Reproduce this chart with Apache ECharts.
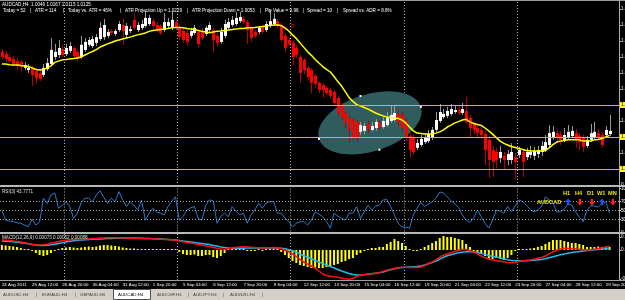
<!DOCTYPE html>
<html>
<head>
<meta charset="utf-8">
<script src="https://cdn.jsdelivr.net/npm/echarts@6/dist/echarts.min.js"></script>
<style>
html, body { margin: 0; padding: 0; background: #000; }
#chart { width: 625px; height: 300px; }
</style>
</head>
<body>
<div id="chart"></div>
<script>
// AUDCAD H4, 24 Aug - 30 Sep 2011
const timeLabels = ['24 Aug 2011', '25 Aug 12:00', '26 Aug 20:00', '30 Aug 04:00', '31 Aug 12:00', '1 Sep 20:00',
  '5 Sep 04:00', '6 Sep 12:00', '7 Sep 20:00', '9 Sep 04:00', '12 Sep 12:00', '13 Sep 20:00', '15 Sep 04:00',
  '16 Sep 12:00', '19 Sep 20:00', '21 Sep 04:00', '22 Sep 12:00', '23 Sep 20:00', '27 Sep 04:00', '28 Sep 12:00',
  '29 Sep 20:00'];

const opens = [
  1.0366,1.0359,1.0350,1.0344,1.0337,1.0334,1.0316,1.0309,1.0316,1.0306,
  1.0300,1.0294,1.0312,1.0328,1.0350,1.0356,1.0375,1.0359,1.0369,1.0378,
  1.0366,1.0350,1.0372,1.0388,1.0384,1.0394,1.0406,1.0412,1.0416,1.0431,
  1.0422,1.0434,1.0450,1.0419,1.0431,1.0466,1.0434,1.0441,1.0447,1.0453,
  1.0462,1.0450,1.0447,1.0434,1.0447,1.0444,1.0459,1.0444,1.0431,1.0425,
  1.0416,1.0425,1.0428,1.0431,1.0422,1.0434,1.0434,1.0416,1.0397,1.0416,
  1.0441,1.0450,1.0453,1.0462,1.0469,1.0459,1.0441,1.0428,1.0428,1.0444,
  1.0434,1.0447,1.0453,1.0462,1.0450,1.0416,1.0403,1.0394,1.0378,1.0350,
  1.0341,1.0316,1.0309,1.0291,1.0269,1.0262,1.0253,1.0247,1.0241,1.0222,
  1.0200,1.0175,1.0159,1.0153,1.0147,1.0116,1.0119,1.0141,1.0122,1.0128,
  1.0144,1.0131,1.0137,1.0150,1.0153,1.0172,1.0169,1.0150,1.0103,1.0097,
  1.0066,1.0075,1.0084,1.0087,1.0097,1.0122,1.0150,1.0162,1.0166,1.0172,
  1.0178,1.0184,1.0175,1.0181,1.0159,1.0141,1.0128,1.0122,1.0109,1.0091,
  1.0059,1.0053,1.0034,1.0041,1.0028,1.0028,1.0037,1.0044,1.0053,1.0037,
  1.0044,1.0041,1.0047,1.0053,1.0059,1.0075,1.0097,1.0112,1.0106,1.0091,
  1.0100,1.0103,1.0112,1.0103,1.0097,1.0072,1.0091,1.0097,1.0112,1.0106,
  1.0106,1.0109];
const closes = [
  1.0350,1.0344,1.0337,1.0328,1.0325,1.0319,1.0325,1.0316,1.0294,1.0284,
  1.0281,1.0316,1.0331,1.0372,1.0366,1.0378,1.0356,1.0378,1.0384,1.0353,
  1.0344,1.0388,1.0397,1.0403,1.0406,1.0412,1.0441,1.0450,1.0428,1.0425,
  1.0431,1.0453,1.0431,1.0447,1.0437,1.0441,1.0450,1.0453,1.0472,1.0472,
  1.0447,1.0434,1.0425,1.0459,1.0459,1.0466,1.0441,1.0412,1.0403,1.0397,
  1.0431,1.0441,1.0391,1.0409,1.0441,1.0450,1.0403,1.0394,1.0428,1.0453,
  1.0459,1.0466,1.0472,1.0475,1.0459,1.0434,1.0409,1.0416,1.0441,1.0428,
  1.0453,1.0462,1.0469,1.0447,1.0403,1.0378,1.0391,1.0350,1.0356,1.0300,
  1.0309,1.0287,1.0269,1.0266,1.0247,1.0247,1.0237,1.0228,1.0206,1.0175,
  1.0162,1.0144,1.0122,1.0100,1.0097,1.0137,1.0134,1.0125,1.0134,1.0147,
  1.0131,1.0150,1.0159,1.0169,1.0175,1.0147,1.0128,1.0097,1.0059,1.0053,
  1.0081,1.0094,1.0100,1.0109,1.0122,1.0153,1.0178,1.0172,1.0181,1.0187,
  1.0184,1.0175,1.0187,1.0147,1.0128,1.0122,1.0112,1.0106,1.0059,1.0028,
  1.0022,1.0028,1.0053,1.0028,1.0047,1.0053,1.0022,1.0059,1.0022,1.0053,
  1.0053,1.0056,1.0059,1.0072,1.0084,1.0112,1.0116,1.0097,1.0091,1.0106,
  1.0116,1.0119,1.0091,1.0084,1.0069,1.0091,1.0112,1.0116,1.0100,1.0075,
  1.0122,1.0119];
const lows = [
  1.0341,1.0334,1.0328,1.0322,1.0309,1.0306,1.0309,1.0300,1.0259,1.0269,
  1.0275,1.0287,1.0306,1.0322,1.0341,1.0347,1.0350,1.0353,1.0362,1.0347,
  1.0337,1.0344,1.0366,1.0381,1.0378,1.0384,1.0400,1.0403,1.0409,1.0419,
  1.0416,1.0428,1.0388,1.0409,1.0425,1.0434,1.0428,1.0434,1.0441,1.0447,
  1.0441,1.0428,1.0419,1.0428,1.0441,1.0434,1.0434,1.0403,1.0394,1.0384,
  1.0409,1.0419,1.0378,1.0403,1.0416,1.0425,1.0366,1.0384,1.0391,1.0409,
  1.0434,1.0444,1.0447,1.0456,1.0453,1.0391,1.0397,1.0409,1.0422,1.0422,
  1.0428,1.0441,1.0447,1.0441,1.0397,1.0366,1.0384,1.0325,1.0347,1.0269,
  1.0297,1.0278,1.0237,1.0253,1.0237,1.0222,1.0231,1.0219,1.0197,1.0166,
  1.0150,1.0128,1.0084,1.0091,1.0084,1.0106,1.0109,1.0112,1.0116,1.0119,
  1.0122,1.0125,1.0131,1.0144,1.0147,1.0134,1.0119,1.0087,1.0034,1.0044,
  1.0059,1.0069,1.0078,1.0081,1.0091,1.0116,1.0144,1.0156,1.0159,1.0166,
  1.0172,1.0169,1.0169,1.0141,1.0100,1.0109,1.0100,1.0094,1.0012,0.9972,
  0.9975,1.0003,1.0019,0.9997,1.0012,1.0016,0.9966,1.0034,0.9975,1.0028,
  1.0034,1.0028,1.0034,1.0041,1.0053,1.0069,1.0091,1.0081,1.0075,1.0084,
  1.0094,1.0097,1.0066,1.0059,1.0053,1.0066,1.0084,1.0091,1.0091,1.0066,
  1.0100,1.0103];
const highs = [
  1.0375,1.0369,1.0359,1.0353,1.0347,1.0341,1.0334,1.0328,1.0322,1.0316,
  1.0309,1.0328,1.0347,1.0409,1.0391,1.0403,1.0388,1.0391,1.0397,1.0384,
  1.0372,1.0416,1.0409,1.0412,1.0416,1.0422,1.0459,1.0469,1.0437,1.0437,
  1.0437,1.0462,1.0469,1.0456,1.0447,1.0487,1.0459,1.0466,1.0494,1.0481,
  1.0469,1.0459,1.0453,1.0487,1.0472,1.0491,1.0469,1.0453,1.0441,1.0434,
  1.0441,1.0450,1.0434,1.0441,1.0447,1.0459,1.0441,1.0425,1.0441,1.0466,
  1.0472,1.0478,1.0491,1.0491,1.0478,1.0466,1.0447,1.0434,1.0447,1.0450,
  1.0462,1.0497,1.0487,1.0469,1.0456,1.0425,1.0412,1.0400,1.0388,1.0356,
  1.0347,1.0322,1.0316,1.0297,1.0275,1.0269,1.0259,1.0253,1.0247,1.0228,
  1.0206,1.0181,1.0166,1.0159,1.0153,1.0147,1.0144,1.0150,1.0147,1.0156,
  1.0153,1.0162,1.0178,1.0197,1.0200,1.0184,1.0178,1.0159,1.0112,1.0106,
  1.0094,1.0106,1.0112,1.0122,1.0131,1.0178,1.0203,1.0187,1.0194,1.0203,
  1.0200,1.0197,1.0206,1.0225,1.0169,1.0150,1.0137,1.0131,1.0119,1.0103,
  1.0072,1.0066,1.0072,1.0053,1.0059,1.0081,1.0050,1.0069,1.0062,1.0066,
  1.0072,1.0069,1.0072,1.0087,1.0106,1.0137,1.0134,1.0122,1.0119,1.0128,
  1.0137,1.0134,1.0125,1.0112,1.0109,1.0103,1.0141,1.0147,1.0122,1.0116,
  1.0134,1.0169];
const ma = [
  1.0328,1.0328,1.0326,1.0325,1.0325,1.0323,1.0322,1.0320,1.0316,1.0311,
  1.0309,1.0311,1.0316,1.0322,1.0333,1.0337,1.0341,1.0342,1.0344,1.0345,
  1.0347,1.0350,1.0356,1.0362,1.0367,1.0373,1.0381,1.0386,1.0391,1.0395,
  1.0400,1.0403,1.0406,1.0409,1.0412,1.0416,1.0419,1.0422,1.0425,1.0430,
  1.0433,1.0434,1.0436,1.0437,1.0439,1.0441,1.0442,1.0442,1.0441,1.0439,
  1.0437,1.0436,1.0433,1.0430,1.0428,1.0426,1.0428,1.0430,1.0431,1.0433,
  1.0434,1.0436,1.0437,1.0439,1.0439,1.0441,1.0441,1.0442,1.0444,1.0445,
  1.0447,1.0448,1.0450,1.0450,1.0448,1.0441,1.0431,1.0419,1.0408,1.0394,
  1.0380,1.0366,1.0355,1.0342,1.0331,1.0320,1.0311,1.0303,1.0289,1.0273,
  1.0259,1.0241,1.0223,1.0211,1.0201,1.0197,1.0192,1.0187,1.0181,1.0175,
  1.0170,1.0166,1.0162,1.0161,1.0159,1.0158,1.0153,1.0144,1.0131,1.0119,
  1.0112,1.0111,1.0109,1.0109,1.0109,1.0112,1.0116,1.0122,1.0131,1.0137,
  1.0144,1.0148,1.0153,1.0155,1.0147,1.0142,1.0139,1.0136,1.0128,1.0119,
  1.0109,1.0098,1.0087,1.0080,1.0075,1.0070,1.0067,1.0064,1.0061,1.0058,
  1.0056,1.0056,1.0056,1.0056,1.0058,1.0066,1.0076,1.0084,1.0087,1.0089,
  1.0091,1.0091,1.0091,1.0091,1.0087,1.0087,1.0087,1.0091,1.0092,1.0095,
  1.0100,1.0105];
const rsi = [
  51,28,26,25,22,21,17,13,30,17,
  24,78,66,85,90,55,62,70,59,32,
  44,68,78,78,70,85,95,80,66,78,
  70,93,74,59,70,62,51,74,28,44,
  55,47,44,40,59,71,81,28,36,51,
  56,59,32,28,62,74,72,21,37,44,
  36,59,49,40,44,21,40,51,66,55,
  67,70,70,44,44,33,25,13,21,24,
  25,17,28,47,42,36,25,10,44,37,
  32,28,44,44,59,32,47,62,51,60,
  62,74,75,59,40,21,13,12,10,40,
  55,69,59,65,69,78,92,90,81,72,
  65,57,40,28,23,33,51,36,21,10,
  28,51,49,44,59,47,60,74,70,62,
  52,47,51,60,81,74,67,47,47,53,
  65,62,47,35,24,51,61,60,58,66,
  69,43.7771];
const macdHist = [
  0.0005,0.00045,0.0004,0.00035,0.0003,0.0002,0.0001,0.00003,-0.0001,-0.0003,
  -0.0005,-0.0006,-0.0005,-0.0003,-0.0001,0.0001,0.0002,0.00025,0.0003,0.00025,
  0.0002,0.00025,0.0003,0.00035,0.0003,0.00035,0.00045,0.0005,0.0005,0.00045,
  0.0004,0.00035,0.00025,0.0002,0.00015,0.00015,0.0001,0.00005,0.00005,0.00003,
  0.00003,0.00003,0,0.00005,0.00003,0.00003,0.00003,-0.0002,-0.0004,-0.0005,
  -0.0005,-0.00045,-0.0006,-0.0006,-0.0005,-0.0005,-0.0007,-0.0008,-0.0006,-0.0003,
  0.00005,0.0001,0.0001,0.00005,0.00003,-0.00005,-0.00005,-0.00003,0,-0.00003,
  0.00003,0.00005,0.00005,0.00003,-0.0002,-0.0005,-0.0008,-0.0011,-0.0013,-0.0015,
  -0.0016,-0.0017,-0.0018,-0.0018,-0.0018,-0.0018,-0.0017,-0.0016,-0.0015,-0.0014,
  -0.0012,-0.0011,-0.0009,-0.0008,-0.0005,-0.0003,-0.0001,0.0001,0.0002,0.0002,
  0.0003,0.0003,0.0006,0.0008,0.0011,0.0009,0.0007,0.0004,0.0001,-0.0001,
  -0.0001,0.00005,0.0003,0.0005,0.0007,0.0009,0.0012,0.0014,0.0013,0.0013,
  0.0012,0.0011,0.001,0.0006,0.0003,-0.0001,-0.0003,-0.0004,-0.0006,-0.0009,
  -0.0009,-0.0008,-0.0009,-0.001,-0.0008,-0.0005,-0.0001,0.00005,0.00005,0.0001,
  0.00015,0.0002,0.0003,0.0004,0.0006,0.0008,0.001,0.001,0.001,0.0009,
  0.0008,0.0007,0.0007,0.0006,0.0005,0.0003,0.0003,0.0003,0.00035,0.0003,
  0.0003,0.0003];
const macdRed = [
  0.001,0.00098,0.00095,0.0009,0.00085,0.0008,0.00073,0.00065,0.00058,0.00052,
  0.0005,0.00052,0.00058,0.00068,0.00076,0.00084,0.00092,0.00098,0.00102,0.00104,
  0.00105,0.00106,0.00108,0.0011,0.00112,0.00114,0.00117,0.0012,0.00122,0.00123,
  0.00123,0.00122,0.00121,0.0012,0.00119,0.00118,0.00117,0.00116,0.00116,0.00115,
  0.00113,0.00111,0.00108,0.00106,0.00104,0.00102,0.00098,0.0009,0.00082,0.00075,
  0.00069,0.00064,0.00056,0.00048,0.00042,0.00035,0.00025,0.00017,0.0001,0.00008,
  0.00013,0.0002,0.00026,0.0003,0.00032,0.00031,0.00028,0.00024,0.00022,0.00021,
  0.00021,0.00023,0.00025,0.00023,0.00012,-0.00003,-0.00018,-0.00038,-0.00065,-0.00095,
  -0.0012,-0.00142,-0.0016,-0.0018,-0.0021,-0.0024,-0.00255,-0.00263,-0.00268,-0.00273,
  -0.0028,-0.00288,-0.00293,-0.00285,-0.00265,-0.00253,-0.00246,-0.0024,-0.00236,-0.00234,
  -0.00226,-0.00214,-0.00202,-0.00193,-0.00185,-0.00178,-0.00173,-0.00173,-0.00175,-0.00176,
  -0.00174,-0.0017,-0.00155,-0.00135,-0.0012,-0.00098,-0.00073,-0.00052,-0.0004,-0.00028,
  -0.00015,-0.00003,0.00006,0.00004,-0.00008,-0.0002,-0.00038,-0.00058,-0.00078,-0.0009,
  -0.001,-0.00106,-0.00112,-0.00118,-0.00124,-0.00127,-0.00124,-0.00116,-0.00108,-0.00103,
  -0.001,-0.00093,-0.00083,-0.00075,-0.0006,-0.00038,-0.00018,-0.00002,0.0001,0.00017,
  0.00015,0.00012,0.00011,0.00008,0.00003,0,0.00002,0.00008,0.00015,0.00022,
  0.0003,0.00038];
const macdCyan = [
  0.0009,0.00088,0.00085,0.00082,0.00078,0.00073,0.00068,0.00062,0.00056,0.0005,
  0.00046,0.00045,0.00047,0.00052,0.00058,0.00065,0.00072,0.0008,0.00087,0.00092,
  0.00096,0.00099,0.00102,0.00105,0.00107,0.00109,0.0011,0.00112,0.00114,0.00116,
  0.00118,0.00119,0.0012,0.0012,0.0012,0.00119,0.00118,0.00117,0.00116,0.00115,
  0.00113,0.00111,0.00109,0.00107,0.00105,0.00102,0.00099,0.00095,0.0009,0.00086,
  0.00081,0.00076,0.00071,0.00066,0.0006,0.00054,0.00046,0.00039,0.00031,0.00024,
  0.0002,0.00018,0.00017,0.00017,0.00018,0.00019,0.0002,0.0002,0.0002,0.0002,
  0.0002,0.0002,0.00021,0.00021,0.00018,0.00012,0.00003,-0.00008,-0.00023,-0.00042,
  -0.00058,-0.00073,-0.00088,-0.00105,-0.0012,-0.00136,-0.0015,-0.00165,-0.0018,-0.00195,
  -0.0021,-0.00223,-0.00235,-0.00245,-0.0025,-0.0025,-0.00248,-0.00243,-0.00238,-0.00233,
  -0.00228,-0.0022,-0.00208,-0.00198,-0.00188,-0.0018,-0.00176,-0.00172,-0.0017,-0.00168,
  -0.00165,-0.0016,-0.0015,-0.00138,-0.00125,-0.0011,-0.00092,-0.00073,-0.00058,-0.00048,
  -0.00038,-0.00028,-0.00022,-0.00018,-0.00017,-0.0002,-0.00026,-0.00034,-0.00044,-0.00055,
  -0.00064,-0.0007,-0.00078,-0.00088,-0.00098,-0.00106,-0.00108,-0.00108,-0.00107,-0.00107,
  -0.00105,-0.00102,-0.00098,-0.00094,-0.00088,-0.00078,-0.00068,-0.00058,-0.00048,-0.0004,
  -0.00032,-0.00025,-0.00019,-0.00014,-0.00009,-0.00005,-0.00001,0.00002,0.00005,0.00009,
  0.00013,0.00017];

// horizontal yellow lines drawn on the chart
const levels = [1.0219, 1.0150, 1.0031, 1.0025];
const priceTicks = [0.995, 1.000, 1.005, 1.010, 1.015, 1.020, 1.025, 1.030, 1.035, 1.040, 1.045, 1.050];
const rsiTicks = [0, 30, 50, 70, 100];
const rsiLevels = [30, 50, 70];
const macdTicks = [-0.0029, 0, 0.0013];
// ellipse object: major axis ends and one minor axis end, in (bar, price)
const ellipseLeft = [83.5, 1.0094];
const ellipseRight = [111.3, 1.0194];
const ellipseEdge = [95.3, 1.0228];

const FONT = '"Liberation Sans", Arial, sans-serif';
const SLOTS = 164;
const slots = [];
for (let i = 0; i < SLOTS; i++) slots.push(i);
const vGrid = [17, 47, 77, 107, 137];

const chart = echarts.init(document.getElementById('chart'), null, { renderer: 'canvas', width: 625, height: 300 });

function xAxisFor(g) {
  const ax = {
    type: 'category', gridIndex: g, data: slots, boundaryGap: true,
    axisLine: { show: false }, axisTick: { show: false }, axisLabel: { show: false },
    splitLine: { show: true, interval: (i) => vGrid.indexOf(i) >= 0, lineStyle: { color: '#b0b0b0', width: 1, type: [1, 2] } }
  };
  if (g === 2) {
    ax.axisLabel = {
      show: true, color: '#ffffff', fontSize: 4.4, fontFamily: FONT, align: 'left', margin: 3,
      interval: (i) => i % 8 === 0 && i / 8 < timeLabels.length,
      formatter: (v) => timeLabels[Number(v) / 8] || ''
    };
  }
  return ax;
}

function yAxisFor(g, min, max, ticks, fmt) {
  return {
    type: 'value', gridIndex: g, position: 'right', min: min, max: max, scale: true,
    axisLine: { show: false }, splitLine: { show: false },
    axisTick: { show: true, length: 2, customValues: ticks, lineStyle: { color: '#c0c0c0' } },
    axisLabel: { show: true, customValues: ticks, formatter: fmt, color: '#ffffff', fontSize: 4.6, fontFamily: FONT, margin: 2 }
  };
}

function renderCandle(params, api) {
  const i = api.value(0);
  const o = api.value(1), c = api.value(2), l = api.value(3), h = api.value(4);
  const po = api.coord([i, o]), pc = api.coord([i, c]);
  const pl = api.coord([i, l]), ph = api.coord([i, h]);
  const x = Math.round(po[0]);
  const up = c >= o;
  const top = Math.min(po[1], pc[1]);
  const bot = Math.max(po[1], pc[1]);
  return {
    type: 'group',
    children: [
      { type: 'line', shape: { x1: x + 0.5, y1: ph[1], x2: x + 0.5, y2: pl[1] },
        style: { stroke: up ? '#999999' : '#b40000', lineWidth: 1 } },
      { type: 'rect', shape: { x: x - 1, y: top, width: 3, height: Math.max(1, bot - top) },
        style: { fill: up ? '#ffffff' : '#ff0000' } }
    ]
  };
}

function renderEllipse(params, api) {
  const L = api.coord(ellipseLeft), R = api.coord(ellipseRight), E = api.coord(ellipseEdge);
  const cx = (L[0] + R[0]) / 2, cy = (L[1] + R[1]) / 2;
  const ax = (R[0] - L[0]) / 2, ay = (R[1] - L[1]) / 2;
  const a = Math.hypot(ax, ay);
  const ux = ax / a, uy = ay / a;
  const b = Math.abs((E[0] - cx) * (-uy) + (E[1] - cy) * ux);
  const pts = [];
  for (let k = 0; k < 72; k++) {
    const t = k / 72 * Math.PI * 2;
    const p = a * Math.cos(t), q = b * Math.sin(t);
    pts.push([cx + p * ux - q * uy, cy + p * uy + q * ux]);
  }
  const handles = [L, R, E, [2 * cx - E[0], 2 * cy - E[1]]].map(pt => ({
    type: 'rect', shape: { x: pt[0] - 1, y: pt[1] - 1, width: 2, height: 2 }, style: { fill: '#ffffff' }
  }));
  return { type: 'group', children: [{ type: 'polygon', shape: { points: pts }, style: { fill: '#2f5c5c' } }].concat(handles) };
}

const lastClose = closes[closes.length - 1];

const header2 = [
  ['Today = 52', 3], ['|', 30], ['ATR = 114', 35], ['|', 63], ['Today vs. ATR = 46%', 68], ['|', 120],
  ['ATR Projection Up = 1.0229', 125], ['|', 187], ['ATR Projection Down = 1.0053', 192], ['|', 260],
  ['Pip Value = 9.96', 265], ['|', 303], ['Spread = 10', 307], ['|', 337], ['Spread vs. ADR = 8.8%', 343]
];
const tabs = [
  ['AUDUSD,H4', 3], ['|', 36], ['EURAUD,H4', 42], ['|', 75], ['GBPAUD,H4', 80],
  ['AUDCAD,H4', 118], ['AUDCHF,H4', 157], ['|', 188], ['AUDJPY,H4', 193], ['|', 223], ['AUDNZD,H4', 230], ['|', 262]
];
const tf = [['H1', 563, '#2050ff', 1], ['H4', 575, '#ff2020', -1], ['D1', 587, '#ff2020', -1], ['W1', 597, '#2050ff', 1], ['MN', 608, '#ff2020', -1]];

function txt(text, x, y, size, color, weight) {
  return { type: 'text', silent: true, z: 100, style: { text: text, x: x, y: y, fill: color, fontSize: size, fontFamily: FONT, fontWeight: weight || 'normal', verticalAlign: 'middle' } };
}
function arrow(cx, cy, dir, color) {
  const s = dir;
  const pts = [[cx, cy - 3.5 * s], [cx + 3, cy], [cx + 1.2, cy], [cx + 1.2, cy + 3 * s], [cx - 1.2, cy + 3 * s], [cx - 1.2, cy], [cx - 3, cy]];
  return { type: 'polygon', silent: true, z: 100, shape: { points: pts }, style: { fill: color } };
}

const graphics = [
  { type: 'rect', z: 90, shape: { x: 0, y: 0, width: 625, height: 1 }, style: { fill: '#9a9a9a' } },
  { type: 'rect', z: 90, shape: { x: 619, y: 0, width: 1, height: 281 }, style: { fill: '#b0b0b0' } },
  { type: 'rect', z: 90, shape: { x: 0, y: 185, width: 625, height: 2 }, style: { fill: '#b8b8b8' } },
  { type: 'rect', z: 90, shape: { x: 0, y: 232, width: 625, height: 2 }, style: { fill: '#b8b8b8' } },
  { type: 'rect', z: 90, shape: { x: 0, y: 280, width: 625, height: 1 }, style: { fill: '#a0a0a0' } },
  { type: 'rect', z: 90, shape: { x: 0, y: 289, width: 625, height: 11 }, style: { fill: '#d4d0c8' } },
  { type: 'rect', z: 91, shape: { x: 113.5, y: 289.5, width: 37, height: 10 }, style: { fill: '#ffffff', stroke: '#505050', lineWidth: 1 } },
  txt('AUDCAD,H4  1.0046 1.0167 1.0115 1.0125', 2, 4.5, 4.6, '#ffffff'),
  txt('RSI(3) 43.7771', 2, 192, 4.6, '#e0e0e0'),
  txt('MACD(12,26,9) 0.00073 0.00052 0.00088', 2, 238, 4.6, '#e0e0e0'),
  txt('AUDCAD', 537, 202, 5.6, '#e8e800', 'bold'),
  txt('8', 291, 26, 6, '#e00000')
];
header2.forEach(h => graphics.push(txt(h[0], h[1], 10.5, 4.6, '#ffffff')));
tabs.forEach(t => graphics.push(txt(t[0], t[1], 295, 4.4, t[0] === 'AUDCAD,H4' ? '#000000' : '#404040')));
tf.forEach(t => {
  graphics.push(txt(t[0], t[1], 193.5, 5.6, '#e8e800', 'bold'));
  graphics.push(arrow(t[1] + 5, 202, t[3], t[2]));
});

const gridBase = { left: 0, right: 6, outerBoundsMode: 'none', containLabel: false };

const option = {
  backgroundColor: '#000000',
  animation: false,
  grid: [
    Object.assign({ top: 2, height: 183 }, gridBase),
    Object.assign({ top: 188.5, height: 44 }, gridBase),
    Object.assign({ top: 234, height: 46 }, gridBase)
  ],
  xAxis: [xAxisFor(0), xAxisFor(1), xAxisFor(2)],
  yAxis: [
    yAxisFor(0, 0.9949875, 1.052175, priceTicks, v => v.toFixed(4)),
    yAxisFor(1, 0, 100, rsiTicks, v => String(v)),
    yAxisFor(2, -0.0030, 0.0016, macdTicks, v => v.toFixed(4))
  ],
  series: [
    {
      type: 'custom', name: 'ellipse', xAxisIndex: 0, yAxisIndex: 0, z: 1, silent: true,
      renderItem: renderEllipse, data: [[ellipseLeft[0], ellipseLeft[1]]], encode: { x: 0, y: 1 }
    },
    {
      type: 'custom', name: 'AUDCAD', xAxisIndex: 0, yAxisIndex: 0, z: 3,
      renderItem: renderCandle,
      data: opens.map((o, i) => [i, o, closes[i], lows[i], highs[i]]),
      encode: { x: 0, y: [1, 2, 3, 4] }
    },
    {
      type: 'line', name: 'MA', xAxisIndex: 0, yAxisIndex: 0, z: 4, data: ma,
      symbol: 'none', lineStyle: { color: '#ffff00', width: 1.5 },
      markLine: {
        silent: true, symbol: 'none', animation: false,
        label: { show: true, position: 'end', distance: 1, formatter: p => Number(p.value).toFixed(4),
          backgroundColor: '#ffff00', color: '#000000', fontSize: 5, fontFamily: FONT, padding: [1, 1, 0, 1] },
        lineStyle: { color: '#c8c800', width: 1, type: 'solid' },
        data: levels.map(v => ({ yAxis: v })).concat([{
          yAxis: lastClose, lineStyle: { opacity: 0 },
          label: { backgroundColor: '#ffffff', color: '#000000' }
        }])
      }
    },
    {
      type: 'line', name: 'RSI', xAxisIndex: 1, yAxisIndex: 1, data: rsi, z: 4,
      symbol: 'none', lineStyle: { color: '#2f78c8', width: 1 },
      markLine: {
        silent: true, symbol: 'none', animation: false, label: { show: false },
        lineStyle: { color: '#a8a8a8', width: 1, type: [1, 2] },
        data: rsiLevels.map(v => ({ yAxis: v }))
      }
    },
    {
      type: 'bar', name: 'OsMA', xAxisIndex: 2, yAxisIndex: 2, data: macdHist,
      barWidth: 2, barMinHeight: 1, itemStyle: { color: '#ffff00' }
    },
    {
      type: 'line', name: 'Signal', xAxisIndex: 2, yAxisIndex: 2, data: macdCyan, z: 4,
      symbol: 'none', lineStyle: { color: '#20b8f0', width: 1.5 }
    },
    {
      type: 'line', name: 'MACD', xAxisIndex: 2, yAxisIndex: 2, data: macdRed, z: 5,
      symbol: 'none', lineStyle: { color: '#ff1010', width: 1.5 }
    }
  ],
  graphic: graphics
};

chart.setOption(option);
</script>
</body>
</html>
